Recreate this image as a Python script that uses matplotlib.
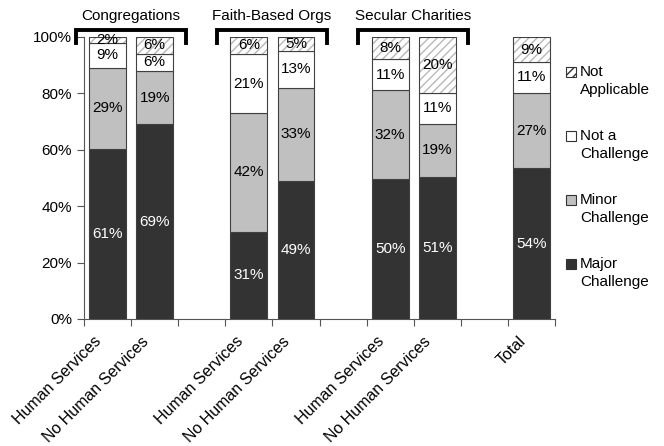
import numpy as np
import matplotlib.pyplot as plt
from matplotlib.patches import Rectangle

plt.rcParams['font.family'] = ['Liberation Sans', 'DejaVu Sans']
plt.rcParams['font.size'] = 11
plt.rcParams['hatch.linewidth'] = 1.0

# slots: bars grouped in pairs, with an empty slot between groups
categories = ['Human Services', 'No Human Services', '',
              'Human Services', 'No Human Services', '',
              'Human Services', 'No Human Services', '',
              'Total']
major = [61, 69, 0, 31, 49, 0, 50, 51, 0, 54]
minor = [29, 19, 0, 42, 33, 0, 32, 19, 0, 27]
not_challenge = [9, 6, 0, 21, 13, 0, 11, 11, 0, 11]
not_applicable = [2, 6, 0, 6, 5, 0, 8, 20, 0, 9]

group_names = ['Congregations', 'Faith-Based Orgs', 'Secular Charities']
group_first = [0, 3, 6]

series_names = ['Major\nChallenge', 'Minor\nChallenge', 'Not a\nChallenge', 'Not\nApplicable']
fills = ['#333333', '#c0c0c0', '#ffffff', '#ffffff']
text_colors = ['white', 'black', 'black', 'black']
edge = '#404040'

values = np.array([major, minor, not_challenge, not_applicable], dtype=float)
totals = values.sum(axis=0)
pct = np.divide(values * 100, totals, out=np.zeros_like(values), where=totals > 0)

fig = plt.figure(figsize=(6.64, 4.46), dpi=100)
ax = fig.add_axes([84 / 664, 1 - 319 / 446, (555 - 84) / 664, (319 - 37) / 446])

x = np.arange(len(categories))
has_bar = totals > 0
width = 0.78
bottom = np.zeros(len(categories))
for i in range(4):
    xs = x[has_bar]
    h = pct[i][has_bar]
    b = bottom[has_bar]
    if i == 3:
        ax.bar(xs, h, width, bottom=b, color='white', edgecolor='#b8b8b8',
               linewidth=0, hatch='////')
        ax.bar(xs, h, width, bottom=b, fill=False, edgecolor=edge, linewidth=0.8)
    else:
        ax.bar(xs, h, width, bottom=b, color=fills[i], edgecolor=edge, linewidth=0.8)
    for xi, hi, bi, raw in zip(xs, h, b, values[i][has_bar]):
        ax.text(xi, bi + hi / 2, f'{raw:.0f}%', ha='center', va='center',
                color=text_colors[i], fontsize=11)
    bottom += pct[i]

ax.set_xlim(-0.5, len(categories) - 0.5)
ax.set_ylim(0, 100)
ax.set_yticks(np.arange(0, 101, 20))
ax.set_yticklabels([f'{v}%' for v in range(0, 101, 20)])
ax.tick_params(axis='y', direction='out', length=5, width=0.8, color='#555555')

# tick marks between the slots, category names drawn as rotated text
ax.set_xticks(np.arange(-0.5, len(categories)))
ax.set_xticklabels([])
ax.tick_params(axis='x', direction='out', length=5, width=0.8, color='#555555')
for xi, name in zip(x, categories):
    if name:
        ax.annotate(name, xy=(xi, 0), xycoords=('data', 'axes fraction'),
                    xytext=(-8.5, -20), textcoords='offset pixels',
                    rotation=45, ha='right', va='center',
                    rotation_mode='anchor', fontsize=11.5)

for s in ['top', 'right']:
    ax.spines[s].set_visible(False)
for s in ['left', 'bottom']:
    ax.spines[s].set_color('#555555')
    ax.spines[s].set_linewidth(0.8)

# group brackets above the bars
for name, first in zip(group_names, group_first):
    x0, x1 = first - 0.68, first + 1.66
    ax.plot([x0, x0, x1, x1], [98, 102.5, 102.5, 98], color='black',
            linewidth=2.8, clip_on=False, solid_joinstyle='miter')
    ax.text((x0 + x1) / 2, 107.5, name, ha='center', va='center', fontsize=11)

# legend, drawn by hand so squares line up with the first text line
legend_rows = [72, 136, 200, 264]
legend_order = [3, 2, 1, 0]
for yc, i in zip(legend_rows, legend_order):
    sq = Rectangle((566 / 664, 1 - (yc + 5) / 446), 10 / 664, 10 / 446,
                   transform=fig.transFigure, facecolor=fills[i],
                   edgecolor='#333333', linewidth=0.8,
                   hatch='////' if i == 3 else None)
    fig.add_artist(sq)
    line1, line2 = series_names[i].split('\n')
    fig.text(580 / 664, 1 - yc / 446, line1, ha='left', va='center', fontsize=11)
    fig.text(580 / 664, 1 - (yc + 18) / 446, line2, ha='left', va='center', fontsize=11)

fig.savefig('out.png', dpi=100)
